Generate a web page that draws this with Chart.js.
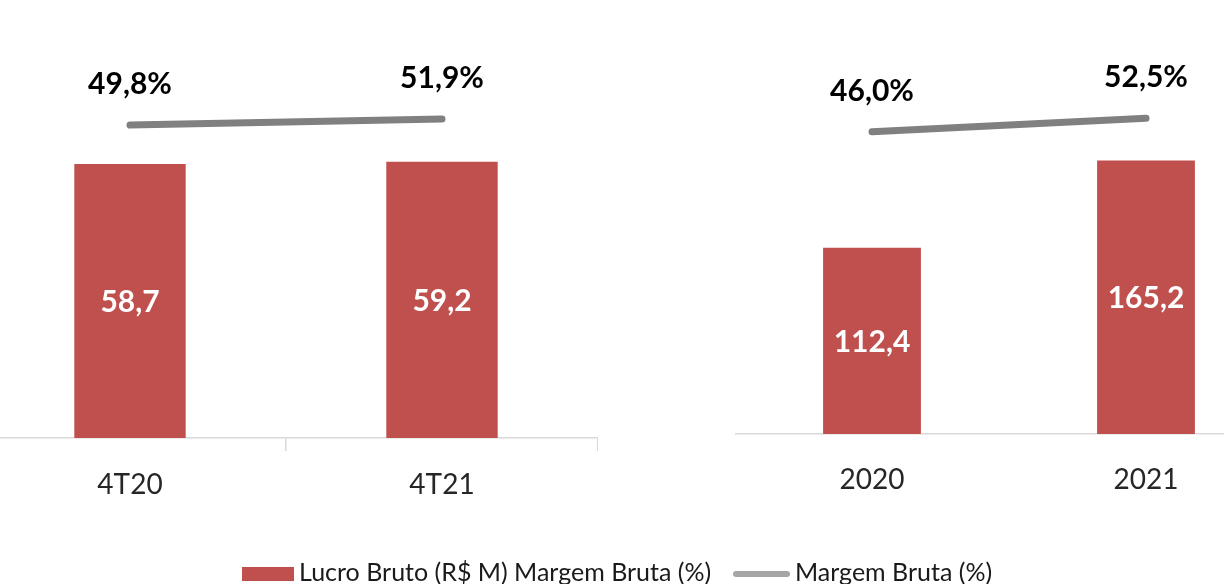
<!DOCTYPE html>
<html>
<head>
<meta charset="utf-8">
<script src="https://cdn.jsdelivr.net/npm/chart.js@4.4.1/dist/chart.umd.min.js"></script>
<style>
  html, body { margin:0; padding:0; background:#fff; }
  body { width:1224px; height:584px; overflow:hidden; position:relative; font-family: Lato, sans-serif; }
  .wrap { position:absolute; top:0; height:530px; }
  #leftWrap { left:-26px; width:624px; }
  #rightWrap { left:735px; width:548px; }
  .legend { position:absolute; left:0; top:0; width:1224px; height:584px; pointer-events:none; }
  .lg-box { position:absolute; left:242px; top:567px; width:52px; height:14px; background:#c0504d; }
  .lg-line { position:absolute; left:733px; top:571px; width:57px; height:6px; border-radius:3px; background:#a6a6a6; }
  .lg-text { position:absolute; font-family: Lato, sans-serif; font-size:25px; color:#1a1a1a; white-space:nowrap; line-height:25px; }
</style>
</head>
<body>
<div class="wrap" id="leftWrap"><canvas id="leftChart" width="624" height="530"></canvas></div>
<div class="wrap" id="rightWrap"><canvas id="rightChart" width="548" height="530"></canvas></div>
<div class="legend">
  <div class="lg-box"></div>
  <div class="lg-text" id="lgBar" style="left:299px; top:559px;"></div>
  <div class="lg-line"></div>
  <div class="lg-text" id="lgLine" style="left:795px; top:559px;"></div>
</div>
<script>
// ---- Data ----
const leftCategories = ['4T20', '4T21'];
const leftLucroBruto = [58.7, 59.2];
const leftMargemBruta = [49.8, 51.9];

const rightCategories = ['2020', '2021'];
const rightLucroBruto = [112.4, 165.2];
const rightMargemBruta = [46.0, 52.5];

const barSeriesLabel = 'Lucro Bruto (R$ M) Margem Bruta (%)';
const lineSeriesLabel = 'Margem Bruta (%)';

document.getElementById('lgBar').textContent = barSeriesLabel;
document.getElementById('lgLine').textContent = lineSeriesLabel;

const BAR_COLOR = '#c0504d';
const LINE_COLOR = '#808080';

function fmt(v, suffix) {
  return v.toFixed(1).replace('.', ',') + (suffix || '');
}

const labelPlugin = {
  id: 'valueLabels',
  afterDatasetsDraw(chart) {
    const ctx = chart.ctx;
    ctx.save();
    chart.data.datasets.forEach((ds, di) => {
      const meta = chart.getDatasetMeta(di);
      meta.data.forEach((el, i) => {
        const v = ds.data[i];
        ctx.font = 'bold 30px Lato';
        ctx.textAlign = 'center';
        ctx.textBaseline = 'alphabetic';
        if (ds.type === 'bar') {
          ctx.fillStyle = '#ffffff';
          const mid = (el.y + el.base) / 2;
          ctx.fillText(fmt(v), el.x, mid + 11);
        } else {
          ctx.fillStyle = '#000000';
          ctx.fillText(fmt(v, '%'), el.x, el.y - 31);
        }
      });
    });
    ctx.restore();
  }
};

function makeChart(id, cats, bars, line, cfg) {
  const H = 530;
  return new Chart(document.getElementById(id), {
    data: {
      labels: cats,
      datasets: [
        {
          type: 'line',
          label: lineSeriesLabel,
          data: line,
          yAxisID: 'y2',
          borderColor: LINE_COLOR,
          backgroundColor: LINE_COLOR,
          borderWidth: 7,
          borderCapStyle: 'round',
          pointRadius: 0,
          tension: 0,
          order: 0
        },
        {
          type: 'bar',
          label: barSeriesLabel,
          data: bars,
          yAxisID: 'y',
          backgroundColor: BAR_COLOR,
          borderWidth: 0,
          categoryPercentage: 1,
          barPercentage: 0.357,
          order: 1
        }
      ]
    },
    options: {
      responsive: false,
      animation: false,
      layout: { padding: { top: cfg.plotTop, left: 0, right: 0, bottom: 0 } },
      plugins: { legend: { display: false }, tooltip: { enabled: false } },
      scales: {
        x: {
          offset: true,
          grid: {
            display: cfg.ticks,
            drawOnChartArea: false,
            drawTicks: cfg.ticks,
            tickLength: 13,
            color: '#d9d9d9',
            lineWidth: 1.5,
            offset: true
          },
          border: { display: true, color: '#d9d9d9', width: 1.5 },
          ticks: {
            font: { family: 'Lato', size: 28 },
            color: '#262626',
            padding: cfg.labelPad,
            maxRotation: 0
          },
          afterFit(s) { s.height = H - cfg.plotBottom; }
        },
        y: {
          display: false,
          min: 0,
          max: cfg.yMax
        },
        y2: {
          display: false,
          position: 'right',
          min: cfg.y2Min,
          max: cfg.y2Max
        }
      }
    },
    plugins: [labelPlugin]
  });
}

makeChart('leftChart', leftCategories, leftLucroBruto, leftMargemBruta, {
  plotTop: 18, plotBottom: 438, yMax: 90, y2Min: -59.8, y2Max: 87.3, ticks: true, labelPad: 17
});
makeChart('rightChart', rightCategories, rightLucroBruto, rightMargemBruta, {
  plotTop: 20, plotBottom: 434, yMax: 250, y2Min: -100, y2Max: 100, ticks: false, labelPad: 29
});
</script>
</body>
</html>
